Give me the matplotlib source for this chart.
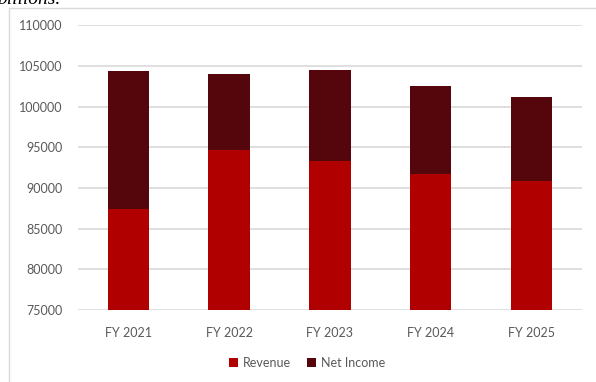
import matplotlib
matplotlib.use("Agg")
import matplotlib.pyplot as plt
from matplotlib.patches import Rectangle
import numpy as np

years = ["FY 2021", "FY 2022", "FY 2023", "FY 2024", "FY 2025"]
revenue = [87400, 94700, 93300, 91700, 90800]
net_income = [16950, 9350, 11250, 10850, 10400]

RED = "#B00000"
MAROON = "#55060D"
GRID = "#D9D9D9"
LABEL = "#595959"

plt.rcParams["font.family"] = ["Lato", "DejaVu Sans"]

fig = plt.figure(figsize=(5.96, 3.82), dpi=100)
ax = fig.add_axes([78 / 596, 1 - 310 / 382, (581.7 - 78) / 596, (310 - 25.3) / 382])

# chart frame, cut off at right and bottom like the screenshot
fig.patches.append(Rectangle((8.5 / 596, -0.2), 1.2, 1 - 8 / 382 + 0.2,
                             transform=fig.transFigure, fill=False,
                             edgecolor=GRID, lw=1.0))

# caption line above the chart, only its lower part shows in the crop
fig.text(-0.005, 1 - 4.5 / 382, "billions.", family="Liberation Serif", style="italic",
         fontsize=14, color="black", ha="left", va="baseline")

x = np.arange(len(years))
ax.bar(x, revenue, width=0.41, color=RED, label="Revenue", zorder=3)
ax.bar(x, net_income, width=0.41, bottom=revenue, color=MAROON, label="Net Income", zorder=3)

ax.set_ylim(75000, 110000)
ax.set_xlim(-0.5, len(years) - 0.5)
ax.set_yticks(np.arange(75000, 110001, 5000))
ax.set_xticks(x)
ax.set_xticklabels(years)
ax.yaxis.grid(True, color=GRID, lw=1.2, zorder=0)
for s in ax.spines.values():
    s.set_visible(False)
ax.tick_params(axis="y", length=0, pad=11, labelsize=9, labelcolor=LABEL)
ax.tick_params(axis="x", length=0, pad=12, labelsize=9, labelcolor=LABEL)

fig.legend(loc="center", bbox_to_anchor=(307 / 596, 1 - 363 / 382), ncol=2,
           frameon=False, handlelength=0.7, handleheight=0.7, handletextpad=0.4,
           columnspacing=1.3, fontsize=9, labelcolor=LABEL)

fig.savefig("out.png", dpi=100)
